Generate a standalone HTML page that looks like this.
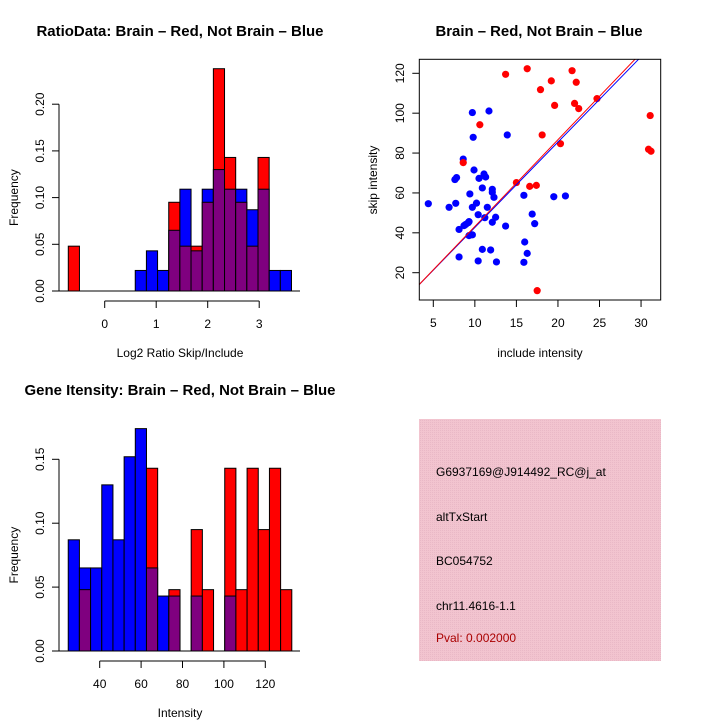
<!DOCTYPE html>
<html><head><meta charset="utf-8"><style>
html,body{margin:0;padding:0;background:#fff;}
svg{display:block;font-family:"Liberation Sans",sans-serif;}
</style></head><body>
<svg id="c" width="720" height="720" xmlns="http://www.w3.org/2000/svg">
<defs><pattern id="pk" width="2" height="2" patternUnits="userSpaceOnUse"><rect width="2" height="2" fill="#f2c4cf"/><rect width="1" height="1" fill="#e9b8c6"/></pattern></defs>
<text x="180" y="36" font-size="15" font-weight="bold" text-anchor="middle" textLength="287" lengthAdjust="spacingAndGlyphs">RatioData: Brain – Red, Not Brain – Blue</text>
<text x="539" y="36" font-size="15" font-weight="bold" text-anchor="middle" textLength="207" lengthAdjust="spacingAndGlyphs">Brain – Red, Not Brain – Blue</text>
<text x="180" y="395" font-size="15" font-weight="bold" text-anchor="middle" textLength="311" lengthAdjust="spacingAndGlyphs">Gene Itensity: Brain – Red, Not Brain – Blue</text>
<g id="h1"></g>
<g id="sc"></g>
<g id="h2"></g>
<g>
<rect x="419" y="419" width="242" height="242" fill="url(#pk)"/>
<g font-size="12">
<text x="436" y="476">G6937169@J914492_RC@j_at</text>
<text x="436" y="521">altTxStart</text>
<text x="436" y="565">BC054752</text>
<text x="436" y="610">chr11.4616-1.1</text>
<text x="436" y="642" fill="#aa0000">Pval: 0.002000</text>
</g></g>
</svg>
<script>
// ratio histogram data
const h1Red=[0.048,0,0,0,0,0,0,0,0,0.095,0.048,0.048,0.095,0.238,0.143,0.095,0.048,0.143,0,0];
const h1Blue=[0,0,0,0,0,0,0.022,0.043,0.022,0.065,0.109,0.043,0.109,0.130,0.109,0.109,0.087,0.109,0.022,0.022];
const h1Start=-0.707, h1Width=0.2167;
const h1XTicks=[0,1,2,3];
const h1YTicks=["0.00","0.05","0.10","0.15","0.20"];
// intensity histogram data
const h2Red=[0,0.048,0,0,0,0,0,0.143,0,0.048,0,0.095,0.048,0,0.143,0.048,0.143,0.095,0.143,0.048];
const h2Blue=[0.087,0.065,0.065,0.130,0.087,0.152,0.174,0.065,0.043,0.043,0,0.043,0,0,0.043,0,0,0,0,0];
const h2Start=24.8, h2Width=5.4;
const h2XTicks=[40,60,80,100,120];
const h2YTicks=["0.00","0.05","0.10","0.15"];
// scatter data
const blueX=[4.4,6.9,7.7,7.6,7.8,8.6,8.1,8.1,8.7,8.9,9.2,9.3,9.3,9.7,9.4,9.7,10.2,10.4,9.9,9.7,9.8,10.5,10.9,11.1,11.3,11.5,11.2,10.9,10.4,11.9,11.7,12.1,12.1,12.3,12.1,12.5,12.6,13.7,13.9,15.9,16.0,15.9,16.3,16.9,17.2,19.5,20.9];
const blueY=[54.6,52.8,54.8,66.7,67.7,77,41.7,27.9,43.6,44.2,45.1,45.6,38.6,39,59.5,52.8,54.9,49.1,71.5,100.3,87.9,67.3,62.5,69.5,68,52.8,47.6,31.7,25.9,31.4,101.1,61.8,60.3,57.8,45.3,47.8,25.4,43.4,89.1,58.8,35.4,25.2,29.7,49.4,44.6,58.1,58.5];
const redX=[13.7,16.3,17.9,19.2,19.6,21.7,22.2,22.0,22.5,24.7,10.6,18.1,20.3,8.6,15.0,16.6,17.4,17.5,31.1,30.9,31.2];
const redY=[119.5,122.3,111.8,116.2,103.9,121.3,115.5,104.9,102.3,107.3,94.2,89.1,84.7,75.2,65.2,63.3,63.8,11,98.8,81.9,80.9];
const fitRed=[-0.3,4.35], fitBlue=[-0.1,4.28];
const scXTicks=[5,10,15,20,25,30];
const scYTicks=[20,40,60,80,100,120];

const NS="http://www.w3.org/2000/svg";
function mk(p,t,a){const e=document.createElementNS(NS,t);for(const k in a)e.setAttribute(k,a[k]);p.appendChild(e);return e;}

function hist(g,red,blue,start,w,xs,ys,y0,yscale,xt,yt,xlab){
  const X=v=>xs(v), Y=v=>y0-v*yscale;
  for(let i=0;i<red.length;i++){
    const x0=X(start+i*w), x1=X(start+(i+1)*w);
    const r=red[i], b=blue[i], hi=Math.max(r,b), lo=Math.min(r,b);
    if(hi>0){
      const bar=mk(g,'rect',{x:x0,y:Y(hi),width:x1-x0,height:Y(0)-Y(hi),fill:r>=b?'#ff0000':'#0000ff',stroke:'#000','stroke-width':1});
      
      
    }
    if(lo>0){
      const ov=mk(g,'rect',{x:x0,y:Y(lo),width:x1-x0,height:Y(0)-Y(lo),fill:'#7f007f',stroke:'#000','stroke-width':1});
      
      
    }
  }
  const ax=mk(g,'g',{});
  
  
  const yv=yt.map(parseFloat);
  mk(ax,'line',{x1:59,x2:59,y1:Y(yv[0]),y2:Y(yv[yv.length-1]),stroke:'#000'});
  yv.forEach((v,i)=>{mk(ax,'line',{x1:52,x2:59,y1:Y(v),y2:Y(v),stroke:'#000'});
    const t=mk(ax,'text',{x:44,y:Y(v),'font-size':12,'text-anchor':'middle',transform:`rotate(-90 44 ${Y(v)})`});t.textContent=yt[i];});
  mk(g,'line',{x1:59,x2:300,y1:Y(0),y2:Y(0),stroke:'#000'});
  const xa=mk(g,'g',{});
  
  
  const ay=Y(0)+10;
  mk(xa,'line',{x1:X(xt[0]),x2:X(xt[xt.length-1]),y1:ay,y2:ay,stroke:'#000'});
  xt.forEach(v=>{mk(xa,'line',{x1:X(v),x2:X(v),y1:ay,y2:ay+7,stroke:'#000'});
    const t=mk(xa,'text',{x:X(v),y:ay+27,'font-size':12,'text-anchor':'middle'});t.textContent=v;});
  const yl=mk(g,'text',{x:13,y:(Y(0)+Y(yv[yv.length-1]))/2+5,'font-size':12,'text-anchor':'middle',transform:`rotate(-90 13 ${(Y(0)+Y(yv[yv.length-1]))/2})`});
  yl.textContent='Frequency';
  
  
  const xl=mk(g,'text',{x:180,y:Y(0)+66,'font-size':12,'text-anchor':'middle'});
  xl.textContent=xlab;
  
  
}
hist(document.getElementById('h1'),h1Red,h1Blue,h1Start,h1Width,v=>104.7+v*51.5,null,291,934,h1XTicks,h1YTicks,'Log2 Ratio Skip/Include');
hist(document.getElementById('h2'),h2Red,h2Blue,h2Start,h2Width,v=>99.7+(v-40)*2.07,null,651,1278,h2XTicks,h2YTicks,'Intensity');

(function(){
  const g=document.getElementById('sc');
  const L=419.3,R=660.7,T=59.3,B=300;
  const X=v=>433.3+(v-5)*8.31, Y=v=>272.7-(v-20)*1.994;
  const cp=mk(g,'clipPath',{id:'scclip'});mk(cp,'rect',{x:L,y:T,width:R-L,height:B-T});
  const pts=mk(g,'g',{});
  
  
  blueX.forEach((x,i)=>{const c=mk(pts,'circle',{cx:X(x),cy:Y(blueY[i]),r:3.6,fill:'#0000ff'});
    
    });
  redX.forEach((x,i)=>{const c=mk(pts,'circle',{cx:X(x),cy:Y(redY[i]),r:3.6,fill:'#ff0000'});
    
    });
  const fl=(f,col,n)=>{const l=mk(g,'line',{x1:X(0),y1:Y(f[0]),x2:X(40),y2:Y(f[0]+f[1]*40),stroke:col,'stroke-width':1,'clip-path':'url(#scclip)'});
    
    };
  fl(fitBlue,'#0000ff','fit-line-blue');
  fl(fitRed,'#ff0000','fit-line-red');
  mk(g,'rect',{x:L,y:T,width:R-L,height:B-T,fill:'none',stroke:'#000'});
  scXTicks.forEach(v=>{mk(g,'line',{x1:X(v),x2:X(v),y1:B,y2:B+7,stroke:'#000'});
    const t=mk(g,'text',{x:X(v),y:B+27,'font-size':12,'text-anchor':'middle'});t.textContent=v;});
  scYTicks.forEach(v=>{mk(g,'line',{x1:L-7,x2:L,y1:Y(v),y2:Y(v),stroke:'#000'});
    const t=mk(g,'text',{x:404,y:Y(v),'font-size':12,'text-anchor':'middle',transform:`rotate(-90 404 ${Y(v)})`});t.textContent=v;});
  const xl=mk(g,'text',{x:540,y:357,'font-size':12,'text-anchor':'middle'});xl.textContent='include intensity';
  
  
  const yl=mk(g,'text',{x:373,y:184,'font-size':12,'text-anchor':'middle',transform:'rotate(-90 373 180)'});yl.textContent='skip intensity';
  
  
})();
</script>
</body></html>
